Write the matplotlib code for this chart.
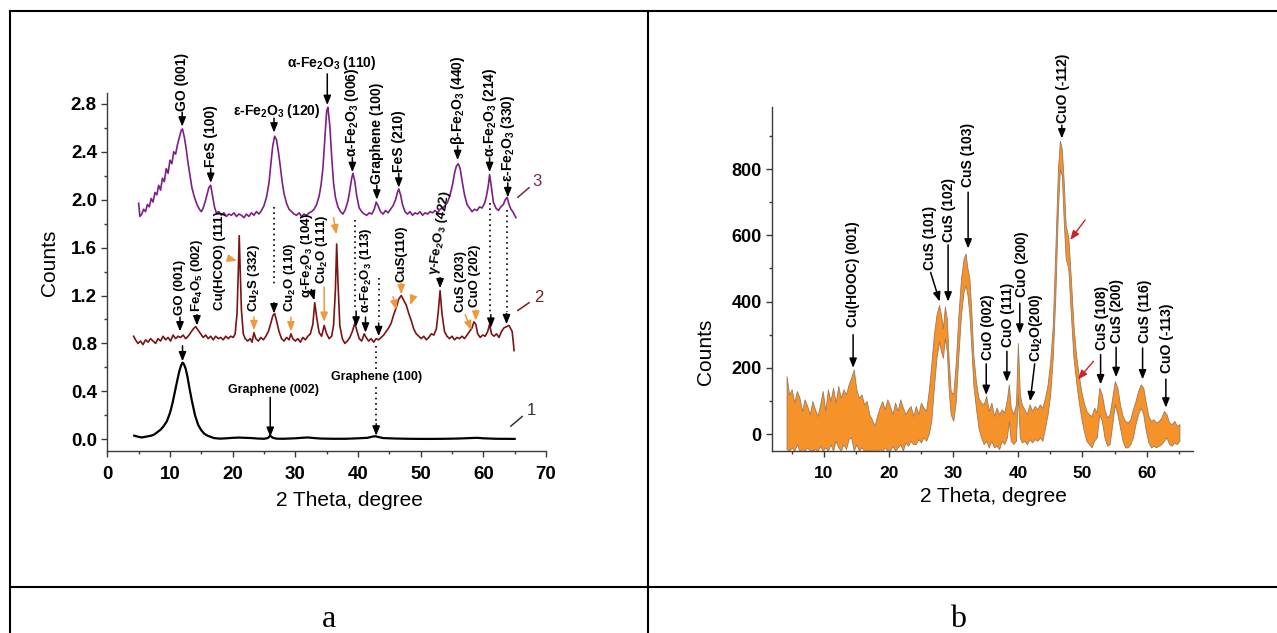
import matplotlib
matplotlib.use("Agg")
import matplotlib.pyplot as plt
from matplotlib.lines import Line2D

plt.rcParams['font.family'] = ['Liberation Sans', 'DejaVu Sans']
plt.rcParams['mathtext.fontset'] = 'custom'
plt.rcParams['mathtext.rm'] = 'Liberation Sans:bold'
plt.rcParams['mathtext.it'] = 'Liberation Sans:bold'
plt.rcParams['mathtext.bf'] = 'Liberation Sans:bold'

# ---------------- panel a: XRD patterns 1, 2, 3 ----------------
x1 = [4.3, 5.0, 5.5, 6.0, 6.5, 7.0, 7.5, 8.0, 8.5, 9.0,
      9.5, 10.0, 10.4, 10.8, 11.2, 11.5, 11.8, 12.0, 12.2, 12.5,
      12.8, 13.1, 13.5, 14.0, 14.5, 15.0, 15.5, 16.0, 17.0, 18.0,
      19.0, 20.0, 21.0, 22.0, 23.0, 24.0, 25.0, 25.6, 26.0, 26.4,
      27.0, 28.0, 29.0, 30.0, 31.0, 32.0, 33.0, 34.0, 36.0, 38.0,
      40.0, 41.5, 42.3, 42.8, 43.3, 44.0, 46.0, 48.0, 50.0, 52.0,
      54.0, 56.0, 58.0, 59.0, 60.0, 62.0, 65.0]
y1 = [0.03, 0.02, 0.015, 0.02, 0.025, 0.03, 0.04, 0.06, 0.08, 0.11,
      0.15, 0.22, 0.30, 0.40, 0.50, 0.57, 0.62, 0.64, 0.63, 0.59,
      0.52, 0.43, 0.32, 0.20, 0.12, 0.075, 0.045, 0.03, 0.01, 0.005,
      0.008, 0.012, 0.014, 0.012, 0.01, 0.006, 0.004, 0.01, 0.03, 0.012,
      0.005, 0.004, 0.006, 0.008, 0.012, 0.015, 0.01, 0.006, 0.004, 0.004,
      0.008, 0.012, 0.022, 0.025, 0.018, 0.01, 0.006, 0.004, 0.003, 0.003,
      0.004, 0.006, 0.01, 0.012, 0.008, 0.004, 0.003]

x2 = [4.2, 4.5, 4.9, 5.3, 5.7, 6.1, 6.5, 6.9, 7.3, 7.7,
      8.1, 8.5, 8.9, 9.3, 9.7, 10.1, 10.5, 10.9, 11.3, 11.7,
      12.1, 12.5, 12.9, 13.3, 13.7, 14.1, 14.5, 14.9, 15.3, 15.7,
      16.1, 16.5, 16.9, 17.3, 17.7, 18.1, 18.5, 18.9, 19.3, 19.7,
      20.1, 20.4, 20.7, 20.9, 21.05, 21.2, 21.4, 21.7, 22.0, 22.4,
      22.8, 23.1, 23.4, 23.7, 24.1, 24.5, 24.9, 25.3, 25.7, 26.1,
      26.4, 26.7, 27.0, 27.4, 27.8, 28.2, 28.6, 29.0, 29.3, 29.6,
      30.0, 30.4, 30.8, 31.2, 31.6, 32.0, 32.4, 32.8, 33.1, 33.4,
      33.8, 34.2, 34.6, 35.0, 35.4, 35.8, 36.1, 36.4, 36.6, 36.8,
      37.1, 37.5, 37.9, 38.3, 38.7, 39.1, 39.5, 39.8, 40.2, 40.6,
      41.0, 41.3, 41.7, 42.1, 42.5, 42.9, 43.3, 43.7, 44.1, 44.5,
      44.9, 45.3, 45.7, 46.1, 46.5, 46.9, 47.3, 47.7, 48.1, 48.5,
      48.9, 49.3, 49.7, 50.1, 50.5, 50.9, 51.3, 51.7, 52.1, 52.5,
      52.8, 53.1, 53.4, 53.8, 54.2, 54.6, 55.0, 55.4, 55.8, 56.2,
      56.6, 57.0, 57.4, 57.8, 58.2, 58.5, 58.8, 59.1, 59.5, 59.9,
      60.3, 60.7, 61.0, 61.3, 61.7, 62.1, 62.5, 62.9, 63.3, 63.7,
      64.1, 64.4, 64.6, 64.8, 64.9]
y2 = [0.86, 0.83, 0.80, 0.82, 0.79, 0.83, 0.81, 0.84, 0.82, 0.80,
      0.84, 0.82, 0.86, 0.83, 0.85, 0.82, 0.87, 0.84, 0.86, 0.85,
      0.87, 0.84, 0.86, 0.89, 0.92, 0.94, 0.91, 0.88, 0.85, 0.87,
      0.84, 0.86, 0.83, 0.86, 0.84, 0.85, 0.83, 0.86, 0.84, 0.86,
      0.85, 0.88, 1.05, 1.40, 1.70, 1.42, 1.08, 0.88, 0.84, 0.82,
      0.84, 0.81, 0.89, 0.84, 0.82, 0.85, 0.83, 0.86, 0.90, 0.97,
      1.03, 1.05, 0.99, 0.90, 0.84, 0.82, 0.85, 0.83, 0.88, 0.84,
      0.82, 0.84, 0.81, 0.85, 0.83, 0.86, 0.88, 0.96, 1.14, 1.02,
      0.89, 0.86, 0.95, 0.88, 0.84, 0.86, 0.95, 1.25, 1.63, 1.32,
      0.95, 0.84, 0.80, 0.82, 0.85, 0.90, 0.97, 0.91, 0.84, 0.82,
      0.88, 0.85, 0.82, 0.84, 0.81, 0.84, 0.83, 0.85, 0.87, 0.90,
      0.93, 0.97, 1.04, 1.10, 1.17, 1.20, 1.16, 1.12, 1.05, 0.99,
      0.92, 0.88, 0.86, 0.84, 0.86, 0.83, 0.85, 0.88, 0.87, 0.92,
      1.06, 1.24, 1.05, 0.90, 0.86, 0.84, 0.86, 0.83, 0.85, 0.84,
      0.86, 0.84, 0.87, 0.90, 0.93, 0.98, 0.96, 0.88, 0.85, 0.87,
      0.86, 0.90, 0.96, 0.88, 0.86, 0.88, 0.85, 0.90, 0.93, 0.94,
      0.95, 0.92, 0.90, 0.80, 0.74]

x3 = [5.0, 5.2, 5.5, 5.8, 6.1, 6.4, 6.7, 7.0, 7.3, 7.6,
      7.9, 8.2, 8.5, 8.8, 9.1, 9.4, 9.7, 10.0, 10.3, 10.6,
      10.9, 11.2, 11.5, 11.8, 12.0, 12.3, 12.6, 12.9, 13.2, 13.5,
      13.8, 14.1, 14.4, 14.7, 15.0, 15.3, 15.6, 15.9, 16.2, 16.5,
      16.8, 17.1, 17.4, 17.8, 18.2, 18.6, 19.0, 19.4, 19.8, 20.2,
      20.6, 21.0, 21.4, 21.8, 22.2, 22.6, 23.0, 23.4, 23.8, 24.2,
      24.6, 25.0, 25.4, 25.8, 26.1, 26.4, 26.7, 27.0, 27.3, 27.6,
      27.9, 28.2, 28.6, 29.0, 29.4, 29.8, 30.2, 30.6, 31.0, 31.4,
      31.8, 32.2, 32.6, 33.0, 33.4, 33.8, 34.1, 34.4, 34.7, 35.0,
      35.2, 35.5, 35.8, 36.1, 36.4, 36.8, 37.2, 37.6, 38.0, 38.4,
      38.7, 39.0, 39.2, 39.5, 39.8, 40.2, 40.6, 41.0, 41.4, 41.8,
      42.2, 42.6, 42.9, 43.2, 43.6, 44.0, 44.4, 44.8, 45.2, 45.6,
      46.0, 46.3, 46.5, 46.8, 47.1, 47.5, 47.9, 48.3, 48.7, 49.1,
      49.5, 49.9, 50.3, 50.7, 51.1, 51.5, 51.9, 52.3, 52.7, 53.1,
      53.5, 53.9, 54.3, 54.7, 55.1, 55.4, 55.7, 56.0, 56.3, 56.6,
      57.0, 57.4, 57.8, 58.2, 58.6, 59.0, 59.4, 59.8, 60.2, 60.5,
      60.8, 61.0, 61.3, 61.6, 62.0, 62.4, 62.8, 63.2, 63.5, 63.8,
      64.1, 64.4, 64.7, 65.0, 65.2]
y3 = [1.97, 1.86, 1.88, 1.92, 1.90, 1.96, 1.94, 2.01, 1.98, 2.06,
      2.04, 2.12, 2.08, 2.18, 2.15, 2.26, 2.22, 2.33, 2.30, 2.40,
      2.38, 2.46, 2.52, 2.58, 2.59, 2.52, 2.42, 2.30, 2.20, 2.10,
      2.04, 1.99, 1.95, 1.92, 1.90, 1.93, 1.98, 2.04, 2.10, 2.12,
      2.03, 1.94, 1.89, 1.90, 1.87, 1.89, 1.86, 1.88, 1.87, 1.89,
      1.86, 1.88, 1.87, 1.85, 1.88, 1.86, 1.89, 1.87, 1.90, 1.88,
      1.91, 1.95, 2.02, 2.14, 2.30, 2.45, 2.53, 2.50, 2.40, 2.28,
      2.15, 2.05, 1.97, 1.92, 1.90, 1.88, 1.87, 1.89, 1.86, 1.88,
      1.87, 1.89, 1.90, 1.92, 1.96, 2.03, 2.12, 2.26, 2.50, 2.74,
      2.77, 2.62, 2.36, 2.14, 2.02, 1.94, 1.90, 1.88, 1.92, 1.99,
      2.08, 2.18, 2.22, 2.15, 2.03, 1.93, 1.90, 1.88, 1.87, 1.89,
      1.88, 1.92, 1.98, 1.95, 1.90, 1.88, 1.91, 1.89, 1.92, 1.95,
      2.00, 2.06, 2.09, 2.04, 1.96, 1.90, 1.88, 1.90, 1.87, 1.89,
      1.88, 1.90, 1.87, 1.89, 1.88, 1.90, 1.89, 1.91, 1.89, 1.92,
      1.93, 1.95, 1.98, 2.04, 2.13, 2.22, 2.28, 2.30, 2.26, 2.16,
      2.04, 1.96, 1.93, 1.90, 1.92, 1.91, 1.94, 1.93, 1.97, 2.03,
      2.12, 2.21, 2.10, 1.98, 1.93, 1.91, 1.94, 1.96, 2.00, 2.02,
      1.96, 1.92, 1.90, 1.87, 1.85]

a_yticks = [0.0, 0.4, 0.8, 1.2, 1.6, 2.0, 2.4, 2.8]
a_xticks = [0, 10, 20, 30, 40, 50, 60, 70]

# peaks marked on pattern 3: label, 2theta, intensity at arrow tip
lab3 = ["GO (001)", "FeS (100)", "α-Fe$_2$O$_3$ (006)", "Graphene (100)",
        "FeS (210)", "β-Fe$_2$O$_3$ (440)", "α-Fe$_2$O$_3$ (214)", "ε-Fe$_2$O$_3$ (330)"]
pk3_x = [11.95, 16.5, 39.1, 43.0, 46.5, 55.9, 61.0, 63.9]
pk3_y = [2.61, 2.14, 2.23, 2.00, 2.10, 2.33, 2.23, 2.02]

# peaks marked on pattern 2
lab2 = ["GO (001)", "Fe$_4$O$_5$ (002)", "Cu(HCOO) (111)", "Cu$_2$S (332)",
        "Cu$_2$O (110)", "α-Fe$_2$O$_3$ (104)", "Cu$_2$O (111)", "α-Fe$_2$O$_3$ (113)",
        "CuS(110)", "γ-Fe$_2$O$_3$ (422)", "CuS (203)", "CuO (202)"]
lab2_x = [11.6, 14.3, 17.95, 23.4, 29.1, 31.8, 34.3, 41.3, 46.9, 53.1, 56.5, 58.7]
lab2_y = [1.04, 1.06, 1.08, 1.06, 1.06, 1.18, 1.30, 1.05, 1.31, 1.36, 1.06, 1.10]

# ---------------- panel b: noisy pattern, lower / upper envelope ----------------
b_x = [4.2, 4.6, 5.0, 5.4, 5.8, 6.2, 6.6, 7.0, 7.4, 7.8,
       8.2, 8.6, 9.0, 9.4, 9.8, 10.2, 10.6, 11.0, 11.4, 11.8,
       12.2, 12.6, 13.0, 13.4, 13.8, 14.2, 14.6, 15.0, 15.4, 15.8,
       16.2, 16.6, 17.0, 17.4, 17.8, 18.2, 18.6, 19.0, 19.4, 19.8,
       20.2, 20.6, 21.0, 21.4, 21.8, 22.2, 22.6, 23.0, 23.4, 23.8,
       24.2, 24.6, 25.0, 25.4, 25.8, 26.2, 26.6, 27.0, 27.4, 27.8,
       28.1, 28.4, 28.7, 29.0, 29.3, 29.6, 30.0, 30.4, 30.8, 31.2,
       31.6, 31.9, 32.2, 32.5, 32.8, 33.1, 33.5, 33.9, 34.3, 34.7,
       35.1, 35.5, 35.9, 36.3, 36.7, 37.1, 37.5, 37.9, 38.3, 38.6,
       38.9, 39.3, 39.7, 40.0, 40.3, 40.6, 41.0, 41.4, 41.8, 42.2,
       42.6, 43.0, 43.4, 43.8, 44.2, 44.6, 45.0, 45.4, 45.8, 46.2,
       46.5, 46.8, 47.1, 47.4, 47.8, 48.2, 48.6, 49.0, 49.4, 49.8,
       50.2, 50.6, 51.0, 51.4, 51.8, 52.2, 52.6, 53.0, 53.4, 53.8,
       54.2, 54.6, 55.0, 55.4, 55.8, 56.2, 56.6, 57.0, 57.4, 57.8,
       58.2, 58.6, 59.0, 59.4, 59.8, 60.2, 60.6, 61.0, 61.4, 61.8,
       62.2, 62.6, 63.0, 63.4, 63.8, 64.2, 64.6, 65.0]
b_hi = [175, 120, 135, 95, 130, 110, 70, 105, 85, 60,
        100, 75, 55, 90, 130, 70, 135, 100, 140, 95,
        145, 110, 135, 120, 150, 170, 195, 135, 110, 120,
        90, 100, 60, 45, 25, 55, 80, 100, 75, 105,
        85, 60, 95, 70, 105, 80, 60, 75, 85, 55,
        85, 60, 95, 80, 70, 130, 210, 300, 360, 390,
        360, 320, 385, 350, 220, 130, 120, 220, 360, 470,
        530, 545, 500, 470, 370, 240, 160, 110, 95, 90,
        115, 70, 95, 55, 80, 60, 75, 65, 105, 150,
        80, 60, 90, 275, 120, 90, 75, 60, 90, 70,
        85, 75, 90, 80, 110, 150, 220, 330, 560, 800,
        885, 860, 760, 630, 595, 470, 330, 240, 180, 130,
        95, 70, 60, 55, 80, 65, 140, 120, 75, 50,
        60, 110, 160, 140, 90, 55, 40, 35, 45, 75,
        100, 130, 150, 140, 95, 55, 40, 45, 35, 40,
        50, 70, 60, 35, 30, 40, 25, 30]
b_lo = [-45, -50, -40, -50, -30, -50, -45, -50, -40, -50,
        -50, -45, -50, -35, -50, -40, -50, -30, -50, -20,
        -40, -50, -30, -45, -15, -10, -50, -30, -50, -40,
        -50, -50, -50, -50, -50, -50, -45, -50, -40, -50,
        -50, -35, -50, -40, -30, -50, -25, -35, -20, -30,
        -30, -15, -25, -10, -20, 0, 40, 140, 230, 280,
        250, 230, 290, 250, 130, 60, 40, 100, 240, 360,
        430, 450, 420, 360, 260, 150, 80, 20, -10, -30,
        -20, -40, -20, -40, -35, -45, -20, -30, -10, 40,
        -20, -30, -20, 120, -10, -25, -20, -30, -15, -25,
        -15, -20, -10, -20, 20, 60, 120, 230, 420, 680,
        800, 780, 640, 530, 500, 360, 230, 160, 100, 50,
        10, -20, -30, -40, -20, -10, 60, 40, -10, -35,
        -30, 30, 90, 60, 20, -20, -40, -40, -30, -10,
        30, 60, 80, 60, 10, -25, -40, -35, -40, -35,
        -30, -20, -10, -30, -35, -25, -30, -20]

b_yticks = [0, 200, 400, 600, 800]
b_xticks = [10, 20, 30, 40, 50, 60]

labb = ["Cu(HOOC) (001)", "CuS (101)", "CuS (102)", "CuS (103)", "CuO (002)",
        "CuO (111)", "CuO (200)", "Cu$_2$O(200)", "CuO (-112)", "CuS (108)",
        "CuS (200)", "CuS (116)", "CuO (-113)"]
labb_x = [14.5, 26.4, 29.3, 32.3, 35.3, 38.4, 40.7, 42.8, 47.0, 53.0, 55.3, 59.6, 63.1]
labb_y = [322, 495, 580, 745, 224, 264, 415, 219, 938, 255, 275, 275, 185]
# arrows of panel b: tail x, tail y, tip x, tip y
arrb = [(14.5, 300, 14.5, 200), (26.5, 488, 27.9, 400), (29.2, 571, 29.2, 400),
        (32.3, 730, 32.3, 560), (35.1, 212, 35.1, 118), (38.3, 250, 38.3, 158),
        (40.3, 395, 40.3, 303), (42.6, 212, 41.9, 99), (46.8, 932, 46.8, 892),
        (52.8, 240, 52.8, 150), (55.2, 262, 55.2, 172), (59.3, 260, 59.3, 165),
        (62.9, 166, 62.9, 80)]

W, H = 1277, 633
fig = plt.figure(figsize=(W / 100, H / 100), dpi=100)


def fx(px):
    return px / W


def fy(py):
    return 1 - py / H


ax_a = fig.add_axes([fx(107.3), fy(451), (546 - 107.3) / W, (451 - 92.7) / H])
ax_b = fig.add_axes([fx(772), fy(450.7), (1193 - 772) / W, (450.7 - 106.7) / H])

SPINE = '#3a3a3a'
ORANGE_ARROW = '#EE9A3C'


def style_axes(ax, xt, xlab, yt, ylab, xminor, yminor, fx_size, fy_size):
    for s in ('top', 'right'):
        ax.spines[s].set_visible(False)
    for s in ('left', 'bottom'):
        ax.spines[s].set_linewidth(1.0)
        ax.spines[s].set_color(SPINE)
    ax.set_xticks(xt)
    ax.set_xticklabels(xlab, fontweight='bold', fontsize=fx_size)
    ax.set_yticks(yt)
    ax.set_yticklabels(ylab, fontweight='bold', fontsize=fy_size)
    ax.set_xticks(xminor, minor=True)
    ax.set_yticks(yminor, minor=True)
    ax.tick_params(which='major', direction='out', length=4, width=1.0, color=SPINE)
    ax.tick_params(which='minor', direction='out', length=2.5, width=1.0, color=SPINE)
    ax.tick_params(axis='x', which='major', pad=7)
    ax.tick_params(axis='y', which='major', pad=3.5)


def arrow(ax, x0, y0, x1, y1, color='black', lw=1.1):
    ax.annotate('', xy=(x1, y1), xytext=(x0, y0), annotation_clip=False,
                arrowprops=dict(arrowstyle='-|>,head_length=0.55,head_width=0.22',
                                color=color, lw=lw, shrinkA=0, shrinkB=0))


def vtext(ax, s, x, y, rot=90, fs=10):
    ax.text(x, y, s, rotation=rot, ha='center', va='bottom', fontsize=fs,
            fontweight='bold', clip_on=False)


# ---------------- panel a ----------------
ax = ax_a
ax.set_xlim(0, 70)
ax.set_ylim(-0.098, 2.893)
style_axes(ax, a_xticks, [str(v) for v in a_xticks],
           a_yticks, ['%.1f' % v for v in a_yticks],
           [5, 15, 25, 35, 45, 55, 65],
           [0.2, 0.6, 1.0, 1.4, 1.8, 2.2, 2.6], 13.5, 13.5)

ax.plot(x1, y1, color='black', lw=1.6, clip_on=False)
ax.plot(x2, y2, color='#7B1416', lw=1.2, clip_on=False)
ax.plot(x3, y3, color='#7E1F86', lw=1.2, clip_on=False)

# pattern 3 labels
for s, x, y in zip(lab3, pk3_x, pk3_y):
    arrow(ax, x, y + 0.12, x, y)
    vtext(ax, s, x, y + 0.13)
ax.text(27.0, 2.74, "ε-Fe$_2$O$_3$ (120)", ha='center', va='center', fontsize=10,
        fontweight='bold')
arrow(ax, 26.6, 2.68, 26.6, 2.56)
ax.text(35.75, 3.14, "α-Fe$_2$O$_3$ (110)", ha='center', va='center', fontsize=10,
        fontweight='bold', clip_on=False)
arrow(ax, 35.1, 3.05, 35.1, 2.79)

# pattern 2 labels
for s, x, y in zip(lab2, lab2_x, lab2_y):
    rot = 82 if s.startswith('γ') else 90
    vtext(ax, s, x, y, rot=rot, fs=9.5)

black2 = [(11.6, 1.02, 11.6, 0.90), (14.3, 1.04, 14.3, 0.95), (32.55, 1.25, 33.05, 1.16),
          (41.2, 1.02, 41.2, 0.89), (53.1, 1.35, 53.1, 1.26), (26.6, 1.14, 26.6, 1.05),
          (39.7, 1.07, 39.7, 0.94), (43.3, 0.97, 43.3, 0.86), (61.2, 1.04, 61.2, 0.93),
          (63.7, 1.05, 63.7, 0.96), (12.0, 0.78, 12.0, 0.65)]
for a in black2:
    arrow(ax, *a)
orange2 = [(19.3, 1.51, 20.7, 1.49), (23.4, 1.02, 23.4, 0.91), (29.3, 1.02, 29.3, 0.90),
           (34.6, 1.27, 34.6, 0.98), (36.1, 1.85, 36.55, 1.71), (46.9, 1.30, 46.9, 1.21),
           (45.6, 1.19, 46.1, 1.08), (48.8, 1.19, 48.35, 1.12), (57.1, 1.04, 58.1, 0.91),
           (58.8, 1.08, 58.8, 0.99)]
for a in orange2:
    arrow(ax, *a, color=ORANGE_ARROW)

# dotted guide lines between patterns
for x, ya, yb in [(26.6, 1.94, 1.30), (39.6, 1.83, 1.08), (43.3, 1.35, 0.99),
                  (61.1, 1.97, 1.06), (63.8, 1.91, 1.06), (42.9, 0.78, 0.58),
                  (42.9, 0.44, 0.13)]:
    ax.plot([x, x], [ya, yb], color='black', lw=1.2, ls=(0, (1, 2.2)))

# pattern 1 labels
arrow(ax, 42.9, 0.13, 42.9, 0.03)
arrow(ax, 26.0, 0.35, 26.0, 0.02)
ax.text(26.45, 0.41, "Graphene (002)", ha='center', va='center', fontsize=9,
        fontweight='bold')
ax.text(42.9, 0.52, "Graphene (100)", ha='center', va='center', fontsize=9,
        fontweight='bold')

# curve numbers
for (xa, ya, xb, yb, xt, yt, s, c) in [(65.5, 2.02, 67.3, 2.10, 68.6, 2.15, '3', '#6E2D4F'),
                                       (65.5, 1.075, 67.3, 1.14, 68.9, 1.18, '2', '#7B1A1A'),
                                       (64.4, 0.11, 66.2, 0.19, 67.6, 0.24, '1', '#333333')]:
    ax.plot([xa, xb], [ya, yb], color=c, lw=1.1, clip_on=False)
    ax.text(xt, yt, s, color=c, fontsize=12, ha='center', va='center', clip_on=False)

ax.text(-0.131, 0.525, 'Counts', rotation=90, ha='center', va='center', fontsize=15,
        transform=ax.transAxes)
ax.text(0.553, -0.137, '2 Theta, degree', ha='center', va='center', fontsize=15,
        transform=ax.transAxes)

# ---------------- panel b ----------------
ax = ax_b
ax.set_xlim(1.95, 67.1)
ax.set_ylim(-50, 988)
style_axes(ax, b_xticks, [str(v) for v in b_xticks],
           b_yticks, [str(v) for v in b_yticks],
           [5, 15, 25, 35, 45, 55, 65], [100, 300, 500, 700, 900], 12.5, 13)

ax.fill_between(b_x, b_lo, b_hi, facecolor='#F5922A', edgecolor='#9C7A5C', lw=0.6)

for s, x, y in zip(labb, labb_x, labb_y):
    vtext(ax, s, x, y)
for a in arrb:
    arrow(ax, *a)
for a in [(50.4, 646, 48.1, 586), (51.7, 220, 49.3, 165)]:
    arrow(ax, *a, color='#C8242B', lw=1.0)

fig.text(fx(706), fy(352), 'Counts', rotation=90, ha='center', va='center', fontsize=15)
fig.text(fx(993), fy(497), '2 Theta, degree', ha='center', va='center', fontsize=15)

# ---------------- surrounding table frame ----------------
frame_lines = [((9.5, 1277), (11, 11)), ((9.5, 9.5), (11, 633)),
               ((648, 648), (11, 633)), ((9.5, 1277), (587, 587))]
for xs, ys in frame_lines:
    fig.add_artist(Line2D([fx(v) for v in xs], [fy(v) for v in ys], color='black',
                          lw=1.5, transform=fig.transFigure))

fig.text(fx(329), fy(627), 'a', ha='center', va='baseline', fontsize=23,
         family=['Liberation Serif', 'DejaVu Serif'])
fig.text(fx(958), fy(627), 'b', ha='center', va='baseline', fontsize=23,
         family=['Liberation Serif', 'DejaVu Serif'])

fig.savefig('out.png', dpi=100)
